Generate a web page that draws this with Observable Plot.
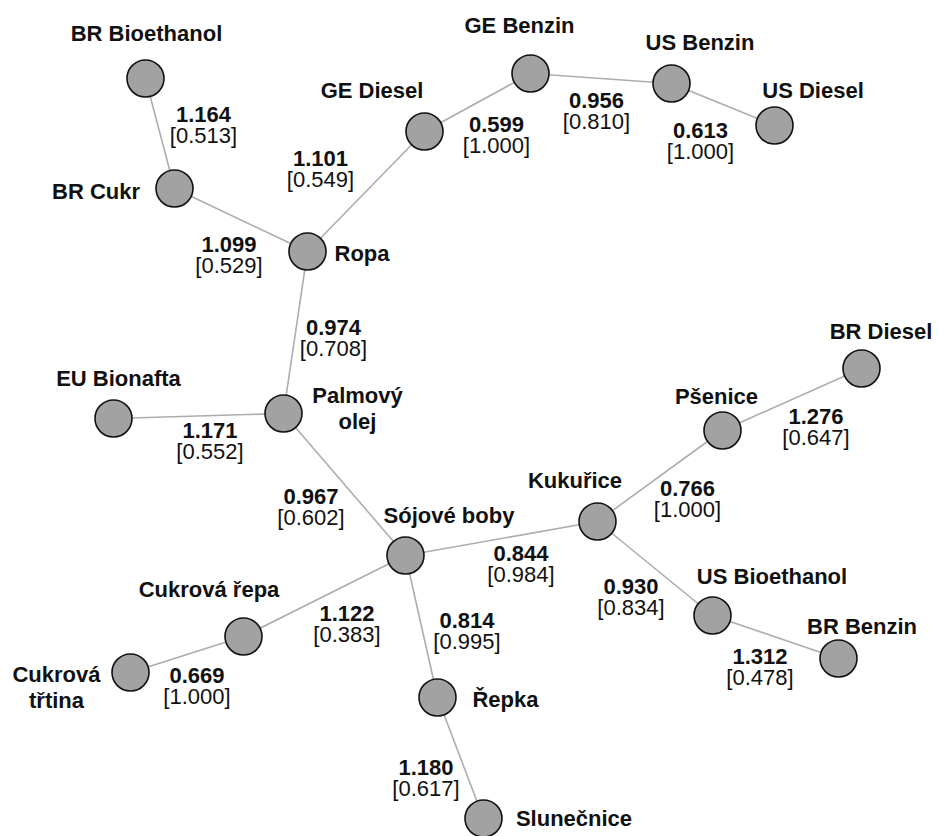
<!DOCTYPE html>
<html>
<head>
<meta charset="utf-8">
<script src="https://cdn.jsdelivr.net/npm/d3@7"></script>
<script src="https://cdn.jsdelivr.net/npm/@observablehq/plot@0.6"></script>
<style>
  html, body { margin: 0; padding: 0; background: #ffffff; }
  #chart svg { display: block; }
</style>
</head>
<body>
<div id="chart"></div>
<script>
// ---- Data: network nodes (layout coordinates) ----
const nodeNames = ["BR Bioethanol","BR Cukr","Ropa","GE Diesel","GE Benzin","US Benzin","US Diesel",
  "Palmový olej","EU Bionafta","Sójové boby","Kukuřice","Pšenice","BR Diesel","US Bioethanol",
  "BR Benzin","Cukrová řepa","Cukrová třtina","Řepka","Slunečnice"];
const nodeX = [145,174,307,424,530,671,774,283,113,405,597,722,861,712,838,243,130,437,483];
const nodeY = [78,188,251,131,73,83,125,413,418,555,521,430,368,615,658,636,672,697,818];

// node label text and placement (layout coordinates, baseline of last line)
const nodeLabels = ["BR Bioethanol","BR Cukr","Ropa","GE Diesel","GE Benzin","US Benzin","US Diesel",
  "Palmový\nolej","EU Bionafta","Sójové boby","Kukuřice","Pšenice","BR Diesel","US Bioethanol",
  "BR Benzin","Cukrová řepa","Cukrová\ntřtina","Řepka","Slunečnice"];
const nodeLabelX = [146,95.5,361.5,371.5,519,699.5,812.5,357,118,448.5,574.5,716,880.5,771.5,861.5,208.5,56,505,573.5];
const nodeLabelY = [40,198,260,97,32,49,97,428,385,522,487,403,338,583,633,596,707,706,825];

// ---- Data: edges ----
const edgeSource = ["BR Bioethanol","BR Cukr","Ropa","GE Diesel","GE Benzin","US Benzin","Ropa",
  "Palmový olej","Palmový olej","Sójové boby","Kukuřice","Pšenice","Kukuřice","US Bioethanol",
  "Sójové boby","Cukrová řepa","Sójové boby","Řepka"];
const edgeTarget = ["BR Cukr","Ropa","GE Diesel","GE Benzin","US Benzin","US Diesel","Palmový olej",
  "EU Bionafta","Sójové boby","Kukuřice","Pšenice","BR Diesel","US Bioethanol","BR Benzin",
  "Cukrová řepa","Cukrová třtina","Řepka","Slunečnice"];
const edgeDistance = [1.164,1.099,1.101,0.599,0.956,0.613,0.974,1.171,0.967,0.844,0.766,1.276,0.930,1.312,1.122,0.669,0.814,1.180];
const edgeBracket  = [0.513,0.529,0.549,1.000,0.810,1.000,0.708,0.552,0.602,0.984,1.000,0.647,0.834,0.478,0.383,1.000,0.995,0.617];
// edge label placement (layout coordinates, baseline of first line)
const edgeLabelX = [203,228.5,320,496,596,700,333,209.5,310.5,520.5,687,815.5,630.5,759.5,346.5,196.5,466.5,425.5];
const edgeLabelY = [121,251,165,131,107,137,334,437,503,560,495,423,593,663,620,682,627,774];

// ---- Build tables ----
const nodes = nodeNames.map((name, i) => ({name, x: nodeX[i], y: nodeY[i],
  label: nodeLabels[i], lx: nodeLabelX[i], ly: nodeLabelY[i]}));
const pos = new Map(nodes.map(d => [d.name, d]));
const edges = edgeSource.map((s, i) => ({
  source: s, target: edgeTarget[i],
  x1: pos.get(s).x, y1: pos.get(s).y,
  x2: pos.get(edgeTarget[i]).x, y2: pos.get(edgeTarget[i]).y,
  dist: edgeDistance[i].toFixed(3), bracket: "[" + edgeBracket[i].toFixed(3) + "]",
  lx: edgeLabelX[i], ly: edgeLabelY[i]
}));

const W = 939, H = 836;
const font = "'Liberation Sans', Arial, Helvetica, sans-serif";

const chart = Plot.plot({
  width: W, height: H,
  margin: 0,
  x: {domain: [0, W], range: [0, W], axis: null},
  y: {domain: [0, H], range: [0, H], axis: null},
  style: {fontFamily: font, background: "#ffffff", color: "#000"},
  marks: [
    Plot.link(edges, {x1: "x1", y1: "y1", x2: "x2", y2: "y2", stroke: "#adadad", strokeWidth: 1.6}),
    Plot.dot(nodes, {x: "x", y: "y", r: 18.5, fill: "#a2a2a2", stroke: "#111", strokeWidth: 1.6}),
    Plot.text(nodes, {x: "lx", y: "ly", text: "label", fontSize: 22, fontWeight: "bold",
      fill: "#111", textAnchor: "middle", lineAnchor: "bottom", lineHeight: 1.15}),
    Plot.text(edges, {x: "lx", y: "ly", text: "dist", fontSize: 22, fontWeight: "bold",
      fill: "#111", textAnchor: "middle", lineAnchor: "bottom"}),
    Plot.text(edges, {x: "lx", y: "ly", dy: 21, text: "bracket", fontSize: 22,
      fill: "#111", textAnchor: "middle", lineAnchor: "bottom"})
  ]
});
document.getElementById("chart").appendChild(chart);
</script>
</body>
</html>
